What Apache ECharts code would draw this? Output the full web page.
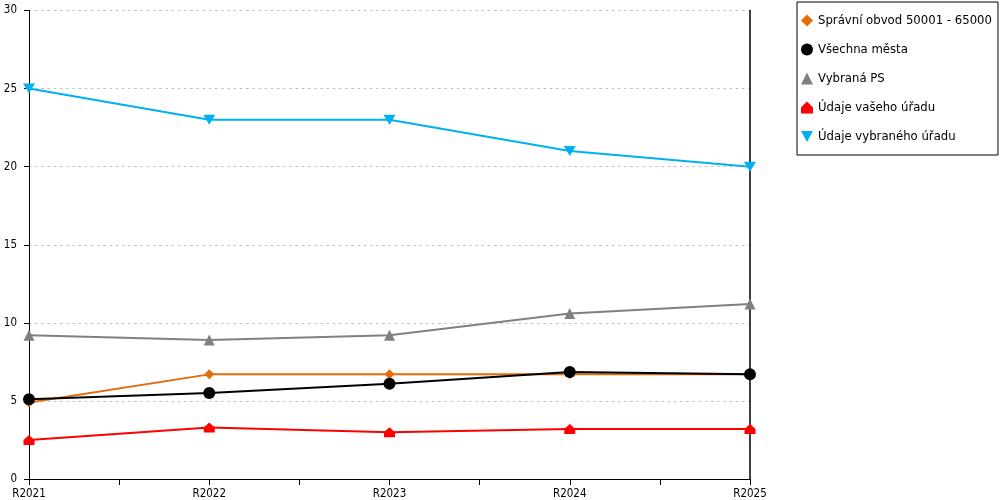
<!DOCTYPE html>
<html>
<head>
<meta charset="utf-8">
<script src="https://cdn.jsdelivr.net/npm/echarts@6/dist/echarts.min.js"></script>
<style>
html,body{margin:0;padding:0;background:#fff;}
#chart{width:1000px;height:500px;}
</style>
</head>
<body>
<div id="chart"></div>
<script>
const categories = ['R2021', 'R2022', 'R2023', 'R2024', 'R2025'];
const spravniObvod = [4.9, 6.7, 6.7, 6.7, 6.7];
const vsechnaMesta = [5.1, 5.5, 6.1, 6.85, 6.7];
const vybranaPS = [9.2, 8.9, 9.2, 10.6, 11.2];
const udajeVasehoUradu = [2.5, 3.3, 3.0, 3.2, 3.2];
const udajeVybranehoUradu = [25, 23, 23, 21, 20];
const yTicks = [0, 5, 10, 15, 20, 25, 30];

const seriesNames = ['Správní obvod 50001 - 65000', 'Všechna města', 'Vybraná PS', 'Údaje vašeho úřadu', 'Údaje vybraného úřadu'];
const FONT = '"DejaVu Sans Condensed", "Liberation Sans", sans-serif';

const houseSym = 'path://M5,0 L10,5 L10,10 L0,10 L0,5 Z';
const downTri = 'path://M0,0 L10,0 L5,9 Z';

function pts(arr) { return arr.map((v, i) => [i, v]); }

const defs = [
  { name: seriesNames[0], data: spravniObvod, color: '#E46C0A', symbol: 'diamond', size: 10 },
  { name: seriesNames[1], data: vsechnaMesta, color: '#000000', symbol: 'circle', size: 12 },
  { name: seriesNames[2], data: vybranaPS, color: '#808080', symbol: 'triangle', size: 11 },
  { name: seriesNames[3], data: udajeVasehoUradu, color: '#FF0000', symbol: houseSym, size: [11, 10] },
  { name: seriesNames[4], data: udajeVybranehoUradu, color: '#00B0F0', symbol: downTri, size: [12, 10] }
];

const chart = echarts.init(document.getElementById('chart'), null, { renderer: 'canvas' });
chart.setOption({
  animation: false,
  backgroundColor: '#ffffff',
  textStyle: { fontFamily: FONT },
  grid: { left: 29, right: 250, top: 10.5, bottom: 20.5, containLabel: false },
  legend: {
    orient: 'vertical',
    left: 797,
    top: 2,
    padding: [12, 6, 12, 4],
    itemWidth: 12,
    itemHeight: 12,
    itemGap: 16,
    itemTextGap: 5,
    borderColor: '#000',
    borderWidth: 1,
    textStyle: { fontFamily: FONT, fontSize: 13, color: '#000' },
    data: defs.map(d => ({ name: d.name, icon: d.symbol, itemStyle: { color: d.color } }))
  },
  xAxis: {
    type: 'value',
    min: 0,
    max: categories.length - 1,
    interval: 0.5,
    axisLine: { show: true, lineStyle: { color: '#000', width: 1 } },
    axisTick: { show: true, length: 6, lineStyle: { color: '#000' } },
    splitLine: { show: false },
    axisLabel: {
      fontFamily: FONT, fontSize: 11.5, color: '#000', margin: 9,
      formatter: v => Number.isInteger(v) ? categories[v] : ''
    }
  },
  yAxis: [
    {
      type: 'value',
      min: yTicks[0],
      max: yTicks[yTicks.length - 1],
      interval: 5,
      axisLine: { show: true, lineStyle: { color: '#000', width: 1 } },
      axisTick: { show: true, length: 5, lineStyle: { color: '#000' } },
      axisLabel: { fontFamily: FONT, fontSize: 11.5, color: '#000', margin: 12 },
      splitLine: { show: true, lineStyle: { color: '#c0c0c0', type: [2.5, 3.7], width: 1 } }
    },
    {
      type: 'value',
      position: 'right',
      min: yTicks[0],
      max: yTicks[yTicks.length - 1],
      interval: 5,
      axisLine: { show: true, lineStyle: { color: '#000', width: 1.5 } },
      axisTick: { show: false },
      axisLabel: { show: false },
      splitLine: { show: false }
    }
  ],
  series: defs.map(d => ({
    name: d.name,
    type: 'line',
    data: pts(d.data),
    symbol: d.symbol,
    symbolSize: d.size,
    showAllSymbol: true,
    lineStyle: { color: d.color, width: 2 },
    itemStyle: { color: d.color },
    emphasis: { disabled: true }
  }))
});
</script>
</body>
</html>
